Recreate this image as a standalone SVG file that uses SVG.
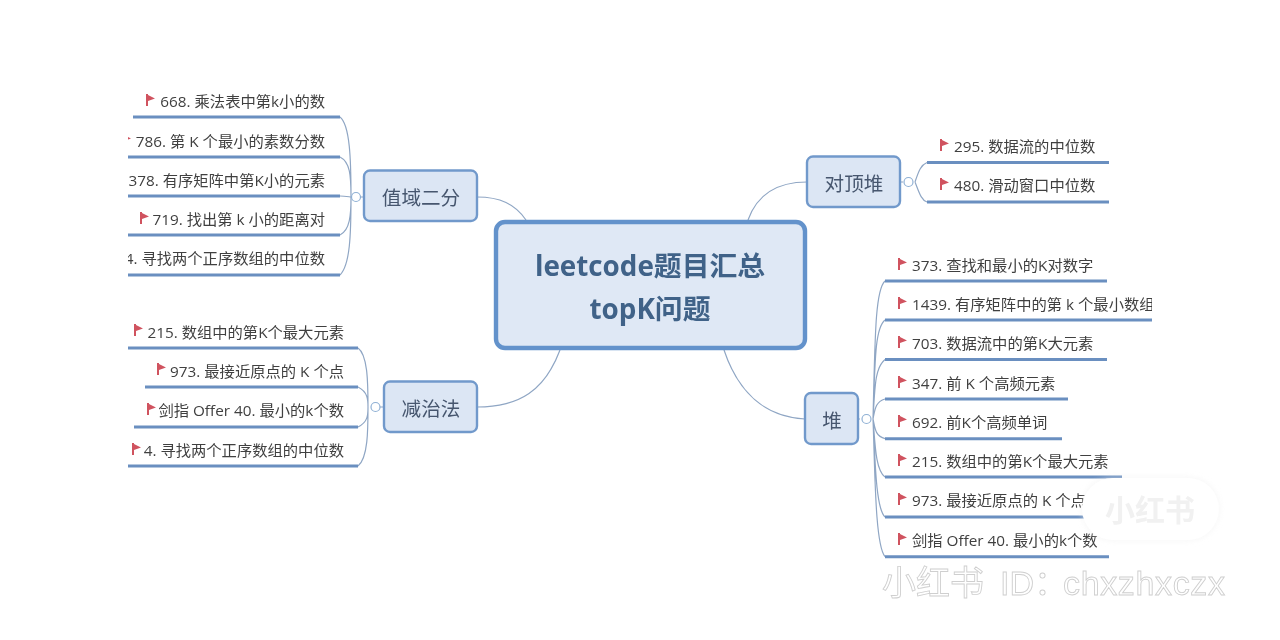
<svg xmlns="http://www.w3.org/2000/svg" width="1280" height="640" viewBox="0 0 1280 640">
<style>
text{font-family:"Open Sans","Noto Sans CJK SC","Liberation Sans",sans-serif}
.leaf{font-size:15.3px;fill:#3f3f3f}
.e{text-anchor:end}
.u{stroke:#6a8fc0;stroke-width:3;fill:none}
.c{stroke:#8fa6c4;stroke-width:1.2;fill:none}
.t{fill:#dce6f4;stroke:#7199cb;stroke-width:2.4}
.tl{font-size:19.6px;fill:#46566e;text-anchor:middle}
.f{fill:#d0525f}
.k{fill:#fff;stroke:#8fb0d4;stroke-width:1.2}
.wm{fill:#fff;stroke:#cfcfcf;stroke-width:.9;font-family:"Liberation Sans","Noto Sans CJK SC",sans-serif;font-size:34px}
</style>
<defs>
<filter id="b" x="-5%" y="-5%" width="110%" height="110%"><feGaussianBlur stdDeviation="0.55"/></filter>
<filter id="s" x="-20%" y="-20%" width="140%" height="140%"><feGaussianBlur stdDeviation="3"/></filter>
<path id="fl" class="f" d="M0 0L2 0L2 1L9 4.500L2 7L2 12L0 12Z"/>
<clipPath id="cut"><rect x="128" y="0" width="1024" height="640"/></clipPath>
</defs>
<rect width="1280" height="640" fill="#fff"/>
<g filter="url(#b)" clip-path="url(#cut)">
<g id="connectors">
<path class="c" d="M477 197C500 197 515 204 526 220"/>
<path class="c" d="M477 407C520 407 545 390 560 350"/>
<path class="c" d="M807 182C780 182 758 192 748 220"/>
<path class="c" d="M805 419C765 417 738 392 724 350"/>
<path class="c" d="M364 197H357M351 197C351 160 350 125 340 117M351 197C351 175 350 162 340 157M351 197C350 197 345 196 340 196M351 197C351 215 350 230 340 235M351 197C351 235 350 265 340 275"/>
<path class="c" d="M384 407H375M368 407C368 385 368 355 358 348M368 407C368 400 368 392 358 387M368 407C368 415 368 422 358 427M368 407C368 430 368 458 358 466"/>
<path class="c" d="M900 182H903M915 182C919 170 921 165 927 162.500M915 182C919 192 921 200 927 202"/>
<path class="c" d="M858 419H860M873 419C875 340 875 290 885 281M873 419C875 360 875 328 885 320M873 419C875 385 875 368 885 359.500M873 419C875 410 875 402 885 399M873 419C875 428 875 436 885 438.700M873 419C875 440 875 470 885 477M873 419C875 450 875 508 885 517M873 419C875 470 875 545 885 556.700"/>
<circle class="k" cx="356" cy="197" r="4.500"/><circle class="k" cx="375.500" cy="407" r="4.500"/><circle class="k" cx="908.500" cy="182" r="4.500"/><circle class="k" cx="866.500" cy="419" r="4.500"/>
</g>
<g id="root"><rect x="496" y="222" width="309" height="126" rx="9" fill="#dfe8f5" stroke="#6392cb" stroke-width="4.400"/>
<text x="650" y="276" font-size="27.800" font-weight="700" fill="#3f6288" text-anchor="middle">leetcode题目汇总</text>
<text x="650" y="319" font-size="27.800" font-weight="700" fill="#3f6288" text-anchor="middle">topK问题</text></g>
<g id="n-a"><rect class="t" x="364" y="170.500" width="113" height="50.500" rx="6"/><text class="tl" x="421" y="205">值域二分</text></g>
<g id="n-b"><rect class="t" x="384" y="381.500" width="93" height="50.500" rx="6"/><text class="tl" x="431" y="416">减治法</text></g>
<g id="n-c"><rect class="t" x="807" y="156.500" width="93" height="50.500" rx="6"/><text class="tl" x="854" y="191">对顶堆</text></g>
<g id="n-d"><rect class="t" x="805" y="393" width="53" height="51" rx="6"/><text class="tl" x="832" y="428">堆</text></g>
<g id="a1"><use href="#fl" x="146" y="94"/><text class="leaf e" x="325" y="107">668. 乘法表中第k小的数</text><path class="u" d="M133 117H340"/></g>
<g id="a2"><use href="#fl" x="122" y="134"/><text class="leaf e" x="325" y="147">786. 第 K 个最小的素数分数</text><path class="u" d="M128 157H340"/></g>
<g id="a3"><text class="leaf e" x="325" y="186">378. 有序矩阵中第K小的元素</text><path class="u" d="M128 196H340"/></g>
<g id="a4"><use href="#fl" x="140" y="212"/><text class="leaf e" x="325" y="225">719. 找出第 k 小的距离对</text><path class="u" d="M128 235H340"/></g>
<g id="a5"><text class="leaf e" x="325" y="264">4. 寻找两个正序数组的中位数</text><path class="u" d="M128 275H340"/></g>
<g id="b1"><use href="#fl" x="134" y="324"/><text class="leaf e" x="344" y="338">215. 数组中的第K个最大元素</text><path class="u" d="M128 348H358"/></g>
<g id="b2"><use href="#fl" x="157" y="363"/><text class="leaf e" x="344" y="377">973. 最接近原点的 K 个点</text><path class="u" d="M145 387H358"/></g>
<g id="b3"><use href="#fl" x="147" y="403"/><text class="leaf e" x="344" y="416">剑指 Offer 40. 最小的k个数</text><path class="u" d="M134 427H358"/></g>
<g id="b4"><use href="#fl" x="132" y="443"/><text class="leaf e" x="344" y="456">4. 寻找两个正序数组的中位数</text><path class="u" d="M128 466H358"/></g>
<g id="c1"><use href="#fl" x="940" y="139"/><text class="leaf" x="954" y="152">295. 数据流的中位数</text><path class="u" d="M927 162.500H1109"/></g>
<g id="c2"><use href="#fl" x="940" y="178"/><text class="leaf" x="954" y="191">480. 滑动窗口中位数</text><path class="u" d="M927 202H1109"/></g>
<g id="d1"><use href="#fl" x="898" y="258"/><text class="leaf" x="912" y="271">373. 查找和最小的K对数字</text><path class="u" d="M885 281H1107"/></g>
<g id="d2"><use href="#fl" x="898" y="297"/><text class="leaf" x="912" y="310">1439. 有序矩阵中的第 k 个最小数组</text><path class="u" d="M885 320H1152"/></g>
<g id="d3"><use href="#fl" x="898" y="336"/><text class="leaf" x="912" y="349">703. 数据流中的第K大元素</text><path class="u" d="M885 359.500H1107"/></g>
<g id="d4"><use href="#fl" x="898" y="376"/><text class="leaf" x="912" y="389">347. 前 K 个高频元素</text><path class="u" d="M885 399H1068"/></g>
<g id="d5"><use href="#fl" x="898" y="415"/><text class="leaf" x="912" y="428">692. 前K个高频单词</text><path class="u" d="M885 438.700H1062"/></g>
<g id="d6"><use href="#fl" x="898" y="454"/><text class="leaf" x="912" y="467">215. 数组中的第K个最大元素</text><path class="u" d="M885 477H1122"/></g>
<g id="d7"><use href="#fl" x="898" y="493"/><text class="leaf" x="912" y="506">973. 最接近原点的 K 个点</text><path class="u" d="M885 517H1100"/></g>
<g id="d8"><use href="#fl" x="898" y="533"/><text class="leaf" x="912" y="546">剑指 Offer 40. 最小的k个数</text><path class="u" d="M885 556.700H1109"/></g>
</g>
<g id="watermark">
<rect x="1082" y="478" width="137" height="62" rx="31" fill="#eeeeee" filter="url(#s)" opacity=".6"/>
<rect x="1082" y="478" width="137" height="62" rx="31" fill="#fff"/>
<text x="1150" y="521" font-size="30" font-weight="700" fill="#f1f1f1" text-anchor="middle">小红书</text>
<text class="wm" y="595"><tspan x="882">小红书</tspan> <tspan x="1000">ID：</tspan> <tspan x="1063" textLength="162">chxzhxczx</tspan></text>
</g>
</svg>
